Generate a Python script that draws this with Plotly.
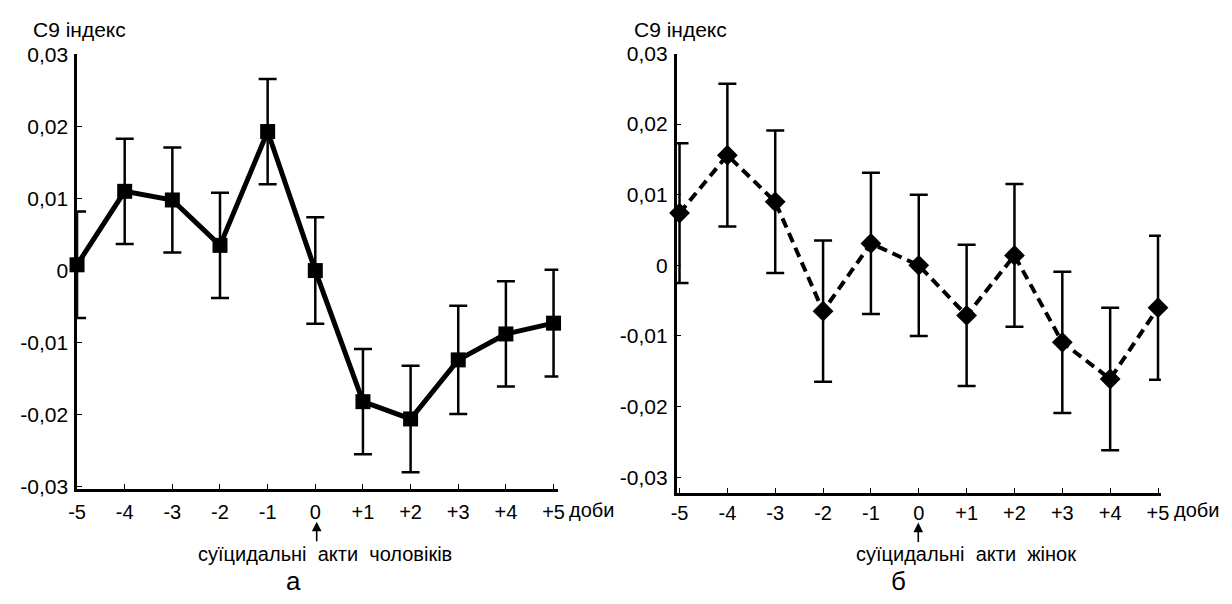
import plotly.graph_objects as go

# ---- data ----
days = [-5, -4, -3, -2, -1, 0, 1, 2, 3, 4, 5]
day_labels = ["-5", "-4", "-3", "-2", "-1", "0", "+1", "+2", "+3", "+4", "+5"]
men_c9 = [0.0008, 0.0110, 0.0098, 0.0035, 0.0193, 0.0000, -0.0182, -0.0206, -0.0124, -0.0088, -0.0073]
men_err = [0.0074, 0.0073, 0.0073, 0.0073, 0.0073, 0.0074, 0.0073, 0.0074, 0.0075, 0.0073, 0.0074]
women_c9 = [0.0074, 0.0156, 0.0090, -0.0065, 0.0031, 0.0000, -0.0071, 0.0014, -0.0109, -0.0161, -0.0060]
women_err = [0.0099, 0.0101, 0.0101, 0.0100, 0.0100, 0.0100, 0.0100, 0.0101, 0.0100, 0.0101, 0.0102]
y_ticks = [-0.03, -0.02, -0.01, 0, 0.01, 0.02, 0.03]
y_tick_labels = ["-0,03", "-0,02", "-0,01", "0", "0,01", "0,02", "0,03"]

W, H = 1232, 604
FONT = "Liberation Sans, Arial, sans-serif"


def px(x):
    return x / W


def py(y):
    return 1 - y / H


fig = go.Figure()

# error bars (clipped to the plot area)
fig.add_trace(go.Scatter(
    x=days, y=men_c9, mode="markers", marker=dict(size=1, opacity=0),
    error_y=dict(type="data", array=men_err, color="black", thickness=2.5, width=9),
    xaxis="x", yaxis="y", showlegend=False, hoverinfo="skip"))
fig.add_trace(go.Scatter(
    x=days, y=women_c9, mode="markers", marker=dict(size=1, opacity=0),
    error_y=dict(type="data", array=women_err, color="black", thickness=2.5, width=9),
    xaxis="x2", yaxis="y2", showlegend=False, hoverinfo="skip"))

# lines + markers
fig.add_trace(go.Scatter(
    x=days, y=men_c9, mode="lines+markers",
    line=dict(color="black", width=5),
    marker=dict(symbol="square", size=15, color="black"),
    cliponaxis=False, xaxis="x", yaxis="y", showlegend=False))
fig.add_trace(go.Scatter(
    x=days, y=women_c9, mode="lines+markers",
    line=dict(color="black", width=4, dash="10px,6px"),
    marker=dict(symbol="diamond", size=16, color="black"),
    cliponaxis=False, xaxis="x2", yaxis="y2", showlegend=False))

axis_common = dict(
    showgrid=False, zeroline=False, showline=True, linecolor="black", linewidth=2.5,
    ticks="inside", ticklen=5, tickwidth=1.2, tickcolor="black",
)
xfont = dict(family=FONT, size=20, color="black")
yfont = dict(family=FONT, size=21, color="black")

fig.update_layout(
    width=W, height=H,
    margin=dict(l=0, r=0, t=0, b=0),
    paper_bgcolor="white", plot_bgcolor="white",
    font=dict(family=FONT, size=20, color="black"),
    xaxis=dict(domain=[px(69), px(557)], range=[-5, 5.10], anchor="y",
               tickmode="array", tickvals=days, ticktext=day_labels,
               ticklabelstandoff=3, tickfont=xfont, **axis_common),
    yaxis=dict(domain=[py(494), py(44)], range=[-0.0303, 0.03], anchor="x",
               tickmode="array", tickvals=y_ticks, ticktext=y_tick_labels,
               ticklabelstandoff=2, tickfont=yfont, **axis_common),
    xaxis2=dict(domain=[px(677), px(1168)], range=[-5.06, 5.06], anchor="y2",
                tickmode="array", tickvals=days, ticktext=day_labels,
                ticklabelstandoff=1, tickfont=xfont, **axis_common),
    yaxis2=dict(domain=[py(498), py(43)], range=[-0.0322, 0.03], anchor="x2",
                tickmode="array", tickvals=y_ticks, ticktext=y_tick_labels,
                ticklabelstandoff=2, tickfont=yfont, **axis_common),
)


def note(text, x, y, size=20, xanchor="center", family=FONT):
    fig.add_annotation(text=text, x=px(x), y=py(y), xref="paper", yref="paper",
                       xanchor=xanchor, yanchor="middle", showarrow=False,
                       font=dict(family=family, size=size, color="black"))


def up_arrow(x, y_head, length=21):
    fig.add_annotation(text="", x=px(x), y=py(y_head), xref="paper", yref="paper",
                       showarrow=True, ax=0, ay=length, axref="pixel", ayref="pixel",
                       arrowhead=2, arrowsize=1.2, arrowwidth=1.6, arrowcolor="black")


note("C9 індекс", 22, 18, size=21, xanchor="left")
note("C9 індекс", 632, 18, size=21, xanchor="left")
note("доби", 566, 516, xanchor="left")
note("доби", 1229, 516, xanchor="right")
up_arrow(312, 528)
up_arrow(922, 529)
note("суїцидальні  акти  чоловіків", 320, 562)
note("суїцидальні  акти  жінок", 970, 562)
note("а", 288, 590, size=26)
note("б", 902, 589, size=26)

fig.write_html(
    "out.html",
    config={"displayModeBar": False},
    post_script="document.body.style.margin='0';document.body.style.overflow='hidden';",
)
